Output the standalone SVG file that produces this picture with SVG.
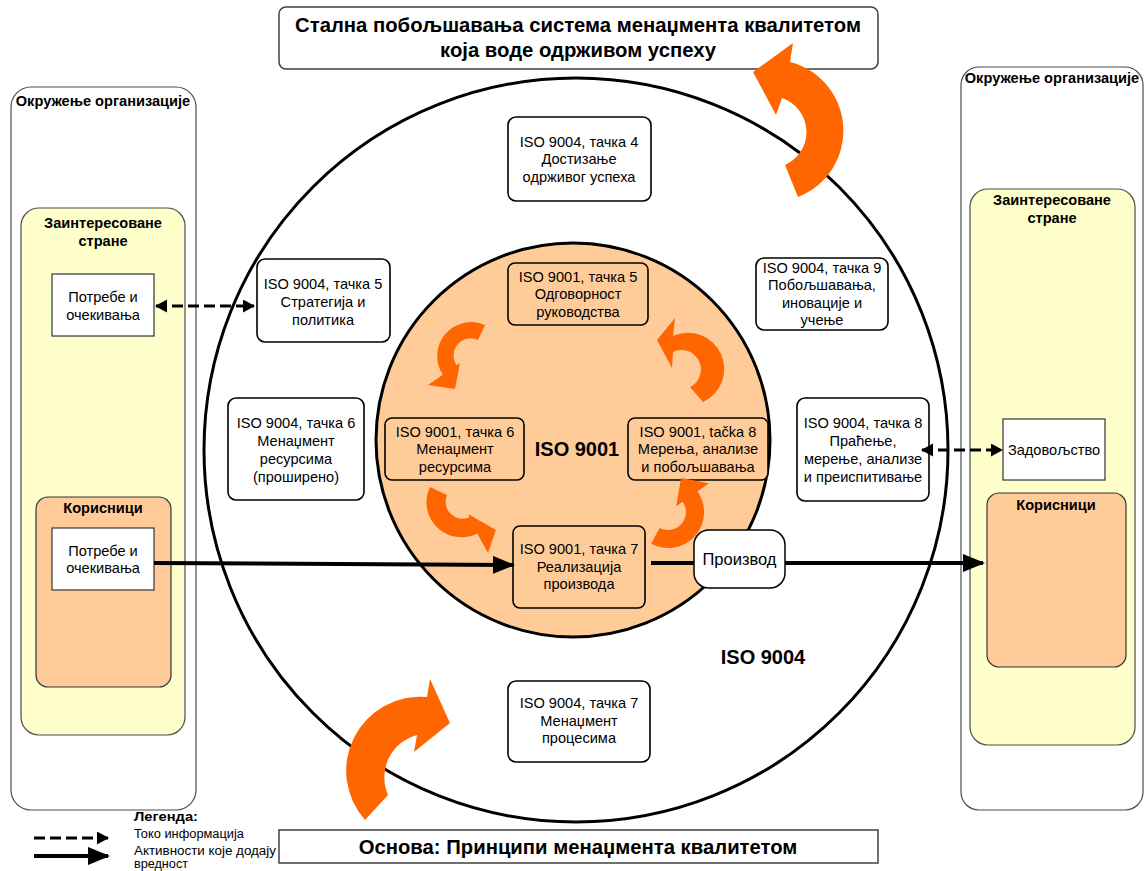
<svg xmlns="http://www.w3.org/2000/svg" width="1144" height="871" viewBox="0 0 1144 871">
  <defs>
    <style>
      text { font-family: "Liberation Sans", Arial, sans-serif; fill: #000; }
      .t { font-size: 14.6px; text-anchor: middle; }
      .b { font-weight: bold; }
      .env { fill: #fff; stroke: #4d4d4d; stroke-width: 1.2; }
      .party { fill: #FFFFCC; stroke: #4d4d4d; stroke-width: 1.2; }
      .cust { fill: #FFCC99; stroke: #333; stroke-width: 1.2; }
      .need { fill: #fff; stroke: #333; stroke-width: 1.2; }
      .node { fill: #fff; stroke: #000; stroke-width: 1.6; }
      .onode { fill: #FFCC99; stroke: #000; stroke-width: 1.6; }
      .cycle { fill: #FF6600; }
      .flow { stroke: #000; stroke-width: 4; fill: none; }
      .info { stroke: #000; stroke-width: 3; fill: none; stroke-dasharray: 11 5; }
      .head { font-size: 20.3px; font-weight: bold; text-anchor: middle; }
    </style>
    <marker id="headSolid" markerUnits="userSpaceOnUse" markerWidth="24" markerHeight="20" refX="20" refY="9" orient="auto">
      <path d="M0,0 L22,9 L0,18 Z" fill="#000"/>
    </marker>
    <marker id="headDash" markerUnits="userSpaceOnUse" markerWidth="14" markerHeight="14" refX="11" refY="6.5" orient="auto-start-reverse">
      <path d="M0,0 L12,6.5 L0,13 Z" fill="#000"/>
    </marker>
  </defs>

  <rect width="1144" height="871" fill="#fff"/>

  <!-- Left environment panel -->
  <g id="env-left">
    <rect class="env" x="11" y="87" width="185" height="723" rx="20"/>
    <text class="t b" x="103" y="101" dominant-baseline="central">Окружење организације</text>
  </g>
  <g id="parties-left">
    <rect class="party" x="21" y="208" width="164" height="527" rx="18"/>
    <text class="t b" x="103" y="223" dominant-baseline="central">Заинтересоване</text>
    <text class="t b" x="103" y="241" dominant-baseline="central">стране</text>
  </g>
  <g id="needs-parties">
    <rect class="need" x="52" y="274" width="102" height="62"/>
    <text class="t" x="103" y="297" dominant-baseline="central">Потребе и</text>
    <text class="t" x="103" y="315" dominant-baseline="central">очекивања</text>
  </g>
  <g id="customers-left">
    <rect class="cust" x="36" y="497" width="135" height="190" rx="12"/>
    <text class="t b" x="103" y="508" dominant-baseline="central">Корисници</text>
  </g>
  <g id="needs-customers">
    <rect class="need" x="52" y="528" width="102" height="62"/>
    <text class="t" x="103" y="551" dominant-baseline="central">Потребе и</text>
    <text class="t" x="103" y="568" dominant-baseline="central">очекивања</text>
  </g>

  <!-- Right environment panel -->
  <g id="env-right">
    <rect class="env" x="961" y="67" width="182" height="743" rx="18"/>
    <text class="t b" x="1052" y="78" dominant-baseline="central">Окружење организације</text>
  </g>
  <g id="parties-right">
    <rect class="party" x="970" y="189" width="165" height="556" rx="18"/>
    <text class="t b" x="1052" y="200" dominant-baseline="central">Заинтересоване</text>
    <text class="t b" x="1052" y="218" dominant-baseline="central">стране</text>
  </g>
  <g id="satisfaction">
    <rect class="need" x="1003" y="419" width="102" height="61"/>
    <text class="t" x="1054" y="450" dominant-baseline="central">Задовољство</text>
  </g>
  <g id="customers-right">
    <rect class="cust" x="987" y="493" width="139" height="174" rx="12"/>
    <text class="t b" x="1056" y="505" dominant-baseline="central">Корисници</text>
  </g>

  <!-- Title and foundation boxes -->
  <g id="goal">
    <rect x="279" y="7" width="599" height="62" rx="7" fill="#fff" stroke="#404040" stroke-width="1.5"/>
    <text class="head" x="578" y="25" dominant-baseline="central">Стална побољшавања система менаџмента квалитетом</text>
    <text class="head" x="578" y="50" dominant-baseline="central">која воде одрживом успеху</text>
  </g>
  <g id="foundation">
    <rect x="279" y="830" width="599" height="33" fill="#fff" stroke="#404040" stroke-width="1.5"/>
    <text class="head" x="578" y="847" dominant-baseline="central">Основа: Принципи менаџмента квалитетом</text>
  </g>

  <!-- ISO 9004 ring -->
  <g id="iso9004">
    <circle cx="576" cy="450" r="372" fill="#fff" stroke="#000" stroke-width="3"/>
    <text x="763" y="657" font-size="20" font-weight="bold" text-anchor="middle" dominant-baseline="central">ISO 9004</text>
  </g>

  <!-- ISO 9001 core -->
  <g id="iso9001">
    <circle cx="573" cy="440" r="197" fill="#FFCC99" stroke="#000" stroke-width="3"/>
    <text x="577" y="449" font-size="20" font-weight="bold" text-anchor="middle" dominant-baseline="central">ISO 9001</text>
  </g>

  <!-- ISO 9004 clauses -->
  <g id="c9004-4">
    <rect class="node" x="508" y="117" width="143" height="84" rx="8"/>
    <text class="t" x="579" y="142" dominant-baseline="central">ISO 9004, тачка 4</text>
    <text class="t" x="579" y="159" dominant-baseline="central">Достизање</text>
    <text class="t" x="579" y="177" dominant-baseline="central">одрживог успеха</text>
  </g>
  <g id="c9004-5">
    <rect class="node" x="257" y="259" width="133" height="83" rx="8"/>
    <text class="t" x="323" y="284" dominant-baseline="central">ISO 9004, тачка 5</text>
    <text class="t" x="323" y="302" dominant-baseline="central">Стратегија и</text>
    <text class="t" x="323" y="320" dominant-baseline="central">политика</text>
  </g>
  <g id="c9004-6">
    <rect class="node" x="228" y="398" width="136" height="102" rx="8"/>
    <text class="t" x="296" y="423" dominant-baseline="central">ISO 9004, тачка 6</text>
    <text class="t" x="296" y="441" dominant-baseline="central">Менаџмент</text>
    <text class="t" x="296" y="459" dominant-baseline="central">ресурсима</text>
    <text class="t" x="296" y="477" dominant-baseline="central">(проширено)</text>
  </g>
  <g id="c9004-9">
    <rect class="node" x="756" y="258" width="132" height="72" rx="8"/>
    <text class="t" x="822" y="268" dominant-baseline="central">ISO 9004, тачка 9</text>
    <text class="t" x="822" y="285" dominant-baseline="central">Побољшавања,</text>
    <text class="t" x="822" y="303" dominant-baseline="central">иновације и</text>
    <text class="t" x="822" y="320" dominant-baseline="central">учење</text>
  </g>
  <g id="c9004-8">
    <rect class="node" x="797" y="398" width="132" height="103" rx="8"/>
    <text class="t" x="863" y="423" dominant-baseline="central">ISO 9004, тачка 8</text>
    <text class="t" x="863" y="441" dominant-baseline="central">Праћење,</text>
    <text class="t" x="863" y="459" dominant-baseline="central">мерење, анализе</text>
    <text class="t" x="863" y="477" dominant-baseline="central">и преиспитивање</text>
  </g>
  <g id="c9004-7">
    <rect class="node" x="508" y="681" width="142" height="81" rx="8"/>
    <text class="t" x="579" y="703" dominant-baseline="central">ISO 9004, тачка 7</text>
    <text class="t" x="579" y="721" dominant-baseline="central">Менаџмент</text>
    <text class="t" x="579" y="738" dominant-baseline="central">процесима</text>
  </g>

  <!-- ISO 9001 clauses -->
  <g id="c9001-5">
    <rect class="onode" x="508" y="263" width="140" height="62" rx="7"/>
    <text class="t" x="578" y="277" dominant-baseline="central">ISO 9001, тачка 5</text>
    <text class="t" x="578" y="294" dominant-baseline="central">Одговорност</text>
    <text class="t" x="578" y="312" dominant-baseline="central">руководства</text>
  </g>
  <g id="c9001-6">
    <rect class="onode" x="385" y="418" width="139" height="62" rx="7"/>
    <text class="t" x="455" y="432" dominant-baseline="central">ISO 9001, тачка 6</text>
    <text class="t" x="455" y="449" dominant-baseline="central">Менаџмент</text>
    <text class="t" x="455" y="467" dominant-baseline="central">ресурсима</text>
  </g>
  <g id="c9001-8">
    <rect class="onode" x="628" y="418" width="140" height="62" rx="7"/>
    <text class="t" x="698" y="432" dominant-baseline="central">ISO 9001, tačka 8</text>
    <text class="t" x="698" y="449" dominant-baseline="central">Мерења, анализе</text>
    <text class="t" x="698" y="467" dominant-baseline="central">и побољшавања</text>
  </g>
  <g id="c9001-7">
    <rect class="onode" x="513" y="526" width="132" height="82" rx="7"/>
    <text class="t" x="579" y="549" dominant-baseline="central">ISO 9001, тачка 7</text>
    <text class="t" x="579" y="567" dominant-baseline="central">Реализација</text>
    <text class="t" x="579" y="584" dominant-baseline="central">производа</text>
  </g>

  <!-- Improvement cycle arrows -->
  <g id="cycle">
    <path class="cycle" d="M798,197 A71,71 0 0 0 790,62 L793,43 L753,72 L776,115 L782,98 A36,36 0 0 1 785,165 Z"/>
    <path class="cycle" d="M365,820 A74,74 0 0 1 427,697 L430,679 L450,723 L414,752 L417,735 A44,44 0 0 0 388,795 Z"/>
    <path class="cycle" d="M485,325 A34,34 0 0 0 442.8,374.8 L428,385 L455,389 L460,363 L456.8,365.2 A17,17 0 0 1 478,340 Z"/>
    <path class="cycle" d="M430,487 A35,35 0 0 0 477.3,533.5 L488,553 L496,530 L468,514 L469.5,517.3 A17,17 0 0 1 447,495 Z"/>
    <path class="cycle" d="M651.1,543.8 A36,36 0 0 0 697.5,491.3 L709,483.3 L681,478 L676.2,506.3 L682.7,501.7 A18,18 0 0 1 659.5,527.9 Z"/>
    <path class="cycle" d="M703,402 A35,35 0 0 0 673,336 L675,318 L657,340 L672,368 L673,352 A19,19 0 0 1 690,387 Z"/>
  </g>

  <!-- Connectors -->
  <g id="connectors">
    <line class="info" x1="156" y1="306" x2="254" y2="306" marker-start="url(#headDash)" marker-end="url(#headDash)"/>
    <line class="info" x1="922" y1="450" x2="1002" y2="450" marker-start="url(#headDash)" marker-end="url(#headDash)"/>
    <line class="flow" x1="154" y1="563" x2="513" y2="565" marker-end="url(#headSolid)"/>
    <line class="flow" x1="651" y1="563" x2="694" y2="563"/>
    <line class="flow" x1="785" y1="563" x2="983" y2="563" marker-end="url(#headSolid)"/>
  </g>

  <g id="product">
    <rect x="694" y="530" width="91" height="58" rx="15" fill="#fff" stroke="#000" stroke-width="1.5"/>
    <text x="739.5" y="559" font-size="16.5" text-anchor="middle" dominant-baseline="central">Производ</text>
  </g>

  <!-- Legend -->
  <g id="legend">
    <text x="134" y="817" font-size="12" font-weight="bold" dominant-baseline="central" textLength="64" lengthAdjust="spacingAndGlyphs">Легенда:</text>
    <line class="info" x1="34" y1="838" x2="108" y2="838" marker-end="url(#headDash)"/>
    <text x="134" y="834" font-size="12" dominant-baseline="central" textLength="110" lengthAdjust="spacingAndGlyphs">Токо информација</text>
    <line class="flow" x1="34" y1="856" x2="108" y2="856" marker-end="url(#headSolid)"/>
    <text x="134" y="851" font-size="12" dominant-baseline="central" textLength="142" lengthAdjust="spacingAndGlyphs">Активности које додају</text>
    <text x="134" y="864" font-size="12" dominant-baseline="central" textLength="54" lengthAdjust="spacingAndGlyphs">вредност</text>
  </g>
</svg>
